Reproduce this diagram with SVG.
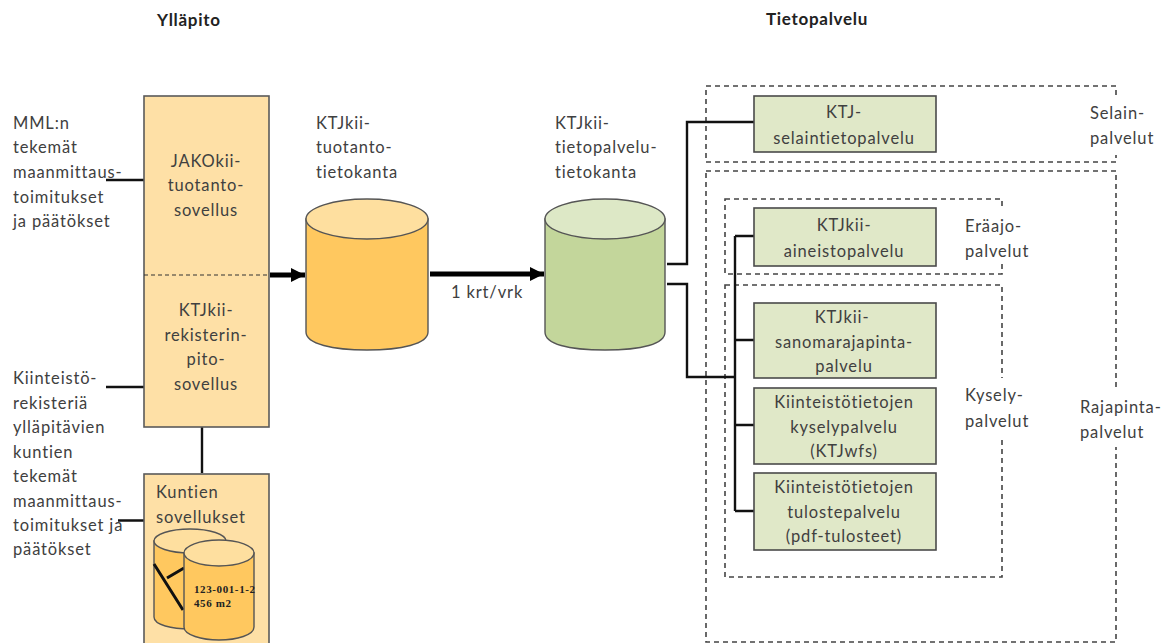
<svg xmlns="http://www.w3.org/2000/svg" width="1173" height="643" viewBox="0 0 1173 643">
<style>
text{font-family:"Lato","Open Sans","Liberation Sans",sans-serif;font-size:16.5px;letter-spacing:.85px;fill:#404040}
.b{font-weight:bold;font-size:17px;letter-spacing:.7px;fill:#222}
.m{text-anchor:middle}
.o{fill:#fee0a6;stroke:#5a5a5a;stroke-width:1.6}
.g{fill:#e0e8c8;stroke:#4a4a4a;stroke-width:1.6}
.d{fill:none;stroke:#444;stroke-width:1.6;stroke-dasharray:5 4}
.c{fill:none;stroke:#111;stroke-width:2.4}
.a{fill:none;stroke:#000;stroke-width:5}
.cy{stroke:#555;stroke-width:1.4}
.s{font-family:"Liberation Serif",serif;font-size:11px;font-weight:bold;letter-spacing:.6px;fill:#222}
</style>
<defs><marker id="ah" markerUnits="userSpaceOnUse" markerWidth="16" markerHeight="16" refX="14" refY="8" orient="auto"><path d="M0 1L14 8L0 15z" fill="#000"/></marker></defs>
<rect width="1173" height="643" fill="#fff"/>
<text class="b" x="157" y="26">Ylläpito</text>
<text class="b" x="766" y="25">Tietopalvelu</text>
<g id="dashed">
<rect class="d" x="706" y="86" width="410" height="76"/>
<rect class="d" x="706" y="171" width="410" height="471"/>
<rect class="d" x="725" y="199" width="277" height="75"/>
<rect class="d" x="725" y="285" width="277" height="292"/>
<path d="M1080 96H1173V155H1080zM955 206H1040V264H955zM955 378H1049V437H955zM1072 390H1173V447H1072z" fill="#fff"/>
</g>
<g id="connectors">
<path class="c" d="M106 180H144M106 387H144M118 520.500H144M202 427V473"/>
<path class="a" d="M270 275H305" marker-end="url(#ah)"/>
<path class="a" d="M430 274H544" marker-end="url(#ah)"/>
<path class="c" d="M667 264H687V122H754M667 284H687V377H735M735 236H754M735 340H754M735 425H754M735 511H754M735 236V511"/>
</g>
<g id="n-sov"><rect class="o" x="144" y="96" width="125" height="331"/><path d="M144 275H269" stroke="#333" stroke-dasharray="4 3" fill="none"/>
<text class="m" x="206" y="167">JAKOkii-</text><text class="m" x="206" y="191">tuotanto-</text><text class="m" x="206" y="216">sovellus</text>
<text class="m" x="206" y="316">KTJkii-</text><text class="m" x="206" y="341">rekisterin-</text><text class="m" x="206" y="365">pito-</text><text class="m" x="206" y="390">sovellus</text></g>
<g id="n-kunnat"><rect class="o" x="144" y="474" width="125" height="175"/>
<text x="156" y="498">Kuntien</text><text x="156" y="523">sovellukset</text>
<path class="cy" fill="#ffc85f" d="M154 541V617C154 625 172 629 190 629C208 629 226 625 226 617V541z"/><ellipse class="cy" cx="190" cy="541" rx="36" ry="12" fill="#fedf9f"/>
<path d="M154 564L183 610M167 578L184 568" stroke="#111" stroke-width="3" fill="none"/>
<path class="cy" fill="#ffc85f" d="M184 553V627C184 635 202 640 219 640C237 640 254 635 254 627V553z"/><ellipse class="cy" cx="219" cy="553" rx="35" ry="13" fill="#fedf9f"/>
<text class="s" x="194" y="593">123-001-1-2</text><text class="s" x="194" y="607">456 m2</text></g>
<g id="n-db1"><path class="cy" fill="#ffc85f" d="M306 219V332C306 344 333 350 367 350C401 350 428 344 428 332V219z"/><ellipse class="cy" cx="367" cy="219" rx="61" ry="20" fill="#fedf9f"/></g>
<g id="n-db2"><path class="cy" fill="#c3d69b" d="M545 219V332C545 344 568 350 605 350C642 350 665 344 665 332V219z"/><ellipse class="cy" cx="605" cy="219" rx="60" ry="20" fill="#dde8c6"/></g>
<g id="labels">
<text x="13" y="129">MML:n</text><text x="13" y="153">tekemät</text><text x="13" y="178">maanmittaus-</text><text x="13" y="203">toimitukset</text><text x="13" y="227">ja päätökset</text>
<text x="13" y="384">Kiinteistö-</text><text x="13" y="409">rekisteriä</text><text x="13" y="433">ylläpitävien</text><text x="13" y="458">kuntien</text><text x="13" y="482">tekemät</text><text x="13" y="507">maanmittaus-</text><text x="13" y="531">toimitukset ja</text><text x="13" y="555">päätökset</text>
<text x="316" y="129">KTJkii-</text><text x="316" y="153">tuotanto-</text><text x="316" y="178">tietokanta</text>
<text x="555" y="129">KTJkii-</text><text x="555" y="153">tietopalvelu-</text><text x="555" y="178">tietokanta</text>
<text x="451" y="298">1 krt/vrk</text>
<text x="1090" y="119">Selain-</text><text x="1090" y="144">palvelut</text>
<text x="965" y="232">Eräajo-</text><text x="965" y="257">palvelut</text>
<text x="965" y="401">Kysely-</text><text x="965" y="427">palvelut</text>
<text x="1080" y="413">Rajapinta-</text><text x="1080" y="438">palvelut</text>
</g>
<g id="n-s1"><rect class="g" x="754" y="96" width="182" height="56"/><text class="m" x="844" y="118">KTJ-</text><text class="m" x="844" y="144">selaintietopalvelu</text></g>
<g id="n-s2"><rect class="g" x="754" y="208" width="182" height="58"/><text class="m" x="844" y="231">KTJkii-</text><text class="m" x="844" y="257">aineistopalvelu</text></g>
<g id="n-s3"><rect class="g" x="754" y="303" width="182" height="75"/><text class="m" x="842" y="323">KTJkii-</text><text class="m" x="844" y="348">sanomarajapinta-</text><text class="m" x="844" y="372">palvelu</text></g>
<g id="n-s4"><rect class="g" x="754" y="388" width="182" height="76"/><text class="m" x="844" y="408">Kiinteistötietojen</text><text class="m" x="844" y="433">kyselypalvelu</text><text class="m" x="844" y="457">(KTJwfs)</text></g>
<g id="n-s5"><rect class="g" x="754" y="473" width="182" height="77"/><text class="m" x="844" y="493">Kiinteistötietojen</text><text class="m" x="844" y="518">tulostepalvelu</text><text class="m" x="844" y="542">(pdf-tulosteet)</text></g>
</svg>
